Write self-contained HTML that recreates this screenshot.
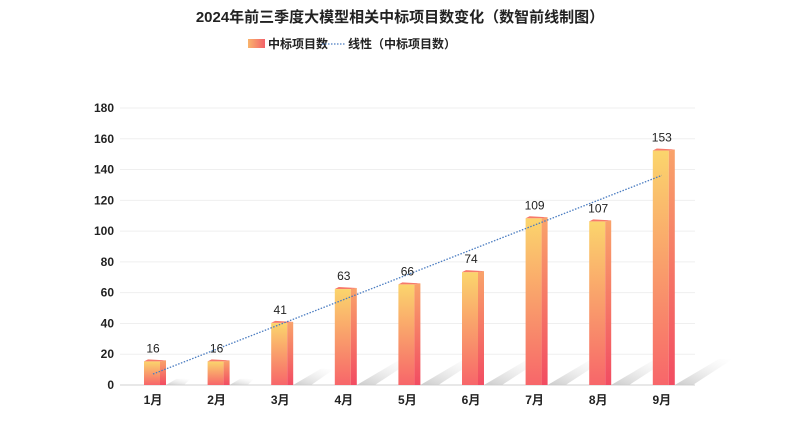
<!DOCTYPE html>
<html><head><meta charset="utf-8">
<style>
body{margin:0;background:#fff;}
svg{display:block;font-family:"Liberation Sans","Noto Sans CJK SC",sans-serif;}
</style></head>
<body>
<svg id="chart" width="800" height="441" viewBox="0 0 800 441">
<defs>
<linearGradient id="gf" x1="0" y1="0" x2="0" y2="1"><stop offset="0" stop-color="#fbd56c"/><stop offset="1" stop-color="#f7666a"/></linearGradient>
<linearGradient id="gs" x1="0" y1="0" x2="0" y2="1"><stop offset="0" stop-color="#f9a36a"/><stop offset="1" stop-color="#f24c62"/></linearGradient>
<linearGradient id="gsh" x1="0" y1="1" x2="1" y2="0"><stop offset="0" stop-color="#c8c8c8" stop-opacity="0.95"/><stop offset="1" stop-color="#eee" stop-opacity="0"/></linearGradient>
<linearGradient id="gl" x1="0" y1="0" x2="1" y2="0"><stop offset="0" stop-color="#f9b46c"/><stop offset="1" stop-color="#f3626a"/></linearGradient>
</defs>
<text x="400" y="22" text-anchor="middle" font-size="15" font-weight="bold" fill="#222">2024年前三季度大模型相关中标项目数变化（数智前线制图）</text>
<g>
<rect x="248" y="39" width="17" height="9" fill="url(#gl)"/>
<text x="268" y="48" font-size="12" font-weight="bold" fill="#222">中标项目数</text>
<line x1="322" y1="44" x2="345" y2="44" stroke="#4a7cc1" stroke-width="1.2" stroke-dasharray="1.5,1.5"/>
<text x="348" y="48" font-size="12" font-weight="bold" fill="#222">线性（中标项目数）</text>
</g>
<g id="grid"></g><g id="yticks"></g><g id="shadows"></g><g id="bars"></g><g id="xticks"></g><g id="trend"></g><g id="labels"></g>
</svg>
<script>
const categories=["1月","2月","3月","4月","5月","6月","7月","8月","9月"];
const values=[16,16,41,63,66,74,109,107,153];
const yTicks=[0,20,40,60,80,100,120,140,160,180];
const NS="http://www.w3.org/2000/svg";
const y0=385,y1=108,yMax=180,x0=153,step=63.6;
function y(v){return y0-(v/yMax)*(y0-y1);}
function x(i){return x0+i*step;}
function mk(tag,attrs,parent,txt){const e=document.createElementNS(NS,tag);for(const k in attrs)e.setAttribute(k,attrs[k]);if(txt!==undefined)e.textContent=txt;document.getElementById(parent).appendChild(e);return e;}
yTicks.forEach(t=>{
 const g=mk("line",{x1:120,x2:695,y1:y(t),y2:y(t),stroke:t===0?"#d0d0d0":"#efefef","stroke-width":1},"grid");
 
 
 const l=mk("text",{x:114,y:y(t)+4,"text-anchor":"end","font-size":12,"font-weight":"bold",fill:"#222"},"yticks",t);
 
 
});
values.forEach((v,i)=>{
 const cx=x(i),top=y(v)+1,fl=cx-9,fw=16,sw=6;
 const h=y0-top,sl=Math.min(h*0.4,40);
 const sh=mk("polygon",{points:`${fl+fw+sw},${y0} ${fl+fw+sw+sl*1.1},${y0-sl*0.65} ${fl+fw+sw+sl*1.1+14},${y0-sl*0.65} ${fl+fw+sw+18},${y0}`,fill:"url(#gsh)"},"shadows");
 
 
 const f=mk("rect",{x:fl,y:top,width:fw,height:h,fill:"url(#gf)"},"bars");
 
 
 const s=mk("polygon",{points:`${fl+fw},${top} ${fl+fw+sw},${top-1} ${fl+fw+sw},${y0} ${fl+fw},${y0}`,fill:"url(#gs)"},"bars");
 
 
 const tp=mk("polygon",{points:`${fl},${top} ${fl+4},${top-2} ${fl+fw+sw},${top-1} ${fl+fw},${top}`,fill:"#f77a6a"},"bars");
 
 
 const xl=mk("text",{x:cx,y:404,"text-anchor":"middle","font-size":12,"font-weight":"bold",fill:"#222"},"xticks",categories[i]);
 
 
 const vl=mk("text",{x:cx,y:top-9,"text-anchor":"middle","font-size":12,fill:"#222"},"labels",v);
 
 
});
const n=values.length;let mx=0,my=0;values.forEach((v,i)=>{mx+=i;my+=v;});mx/=n;my/=n;
let num=0,den=0;values.forEach((v,i)=>{num+=(i-mx)*(v-my);den+=(i-mx)*(i-mx);});
const b=num/den,a=my-b*mx;
const tl=mk("line",{x1:x(0),y1:y(a),x2:x(n-1),y2:y(a+b*(n-1)),stroke:"#4a7cc1","stroke-width":1.3,"stroke-dasharray":"1.5,1.5"},"trend");


</script>
</body></html>
